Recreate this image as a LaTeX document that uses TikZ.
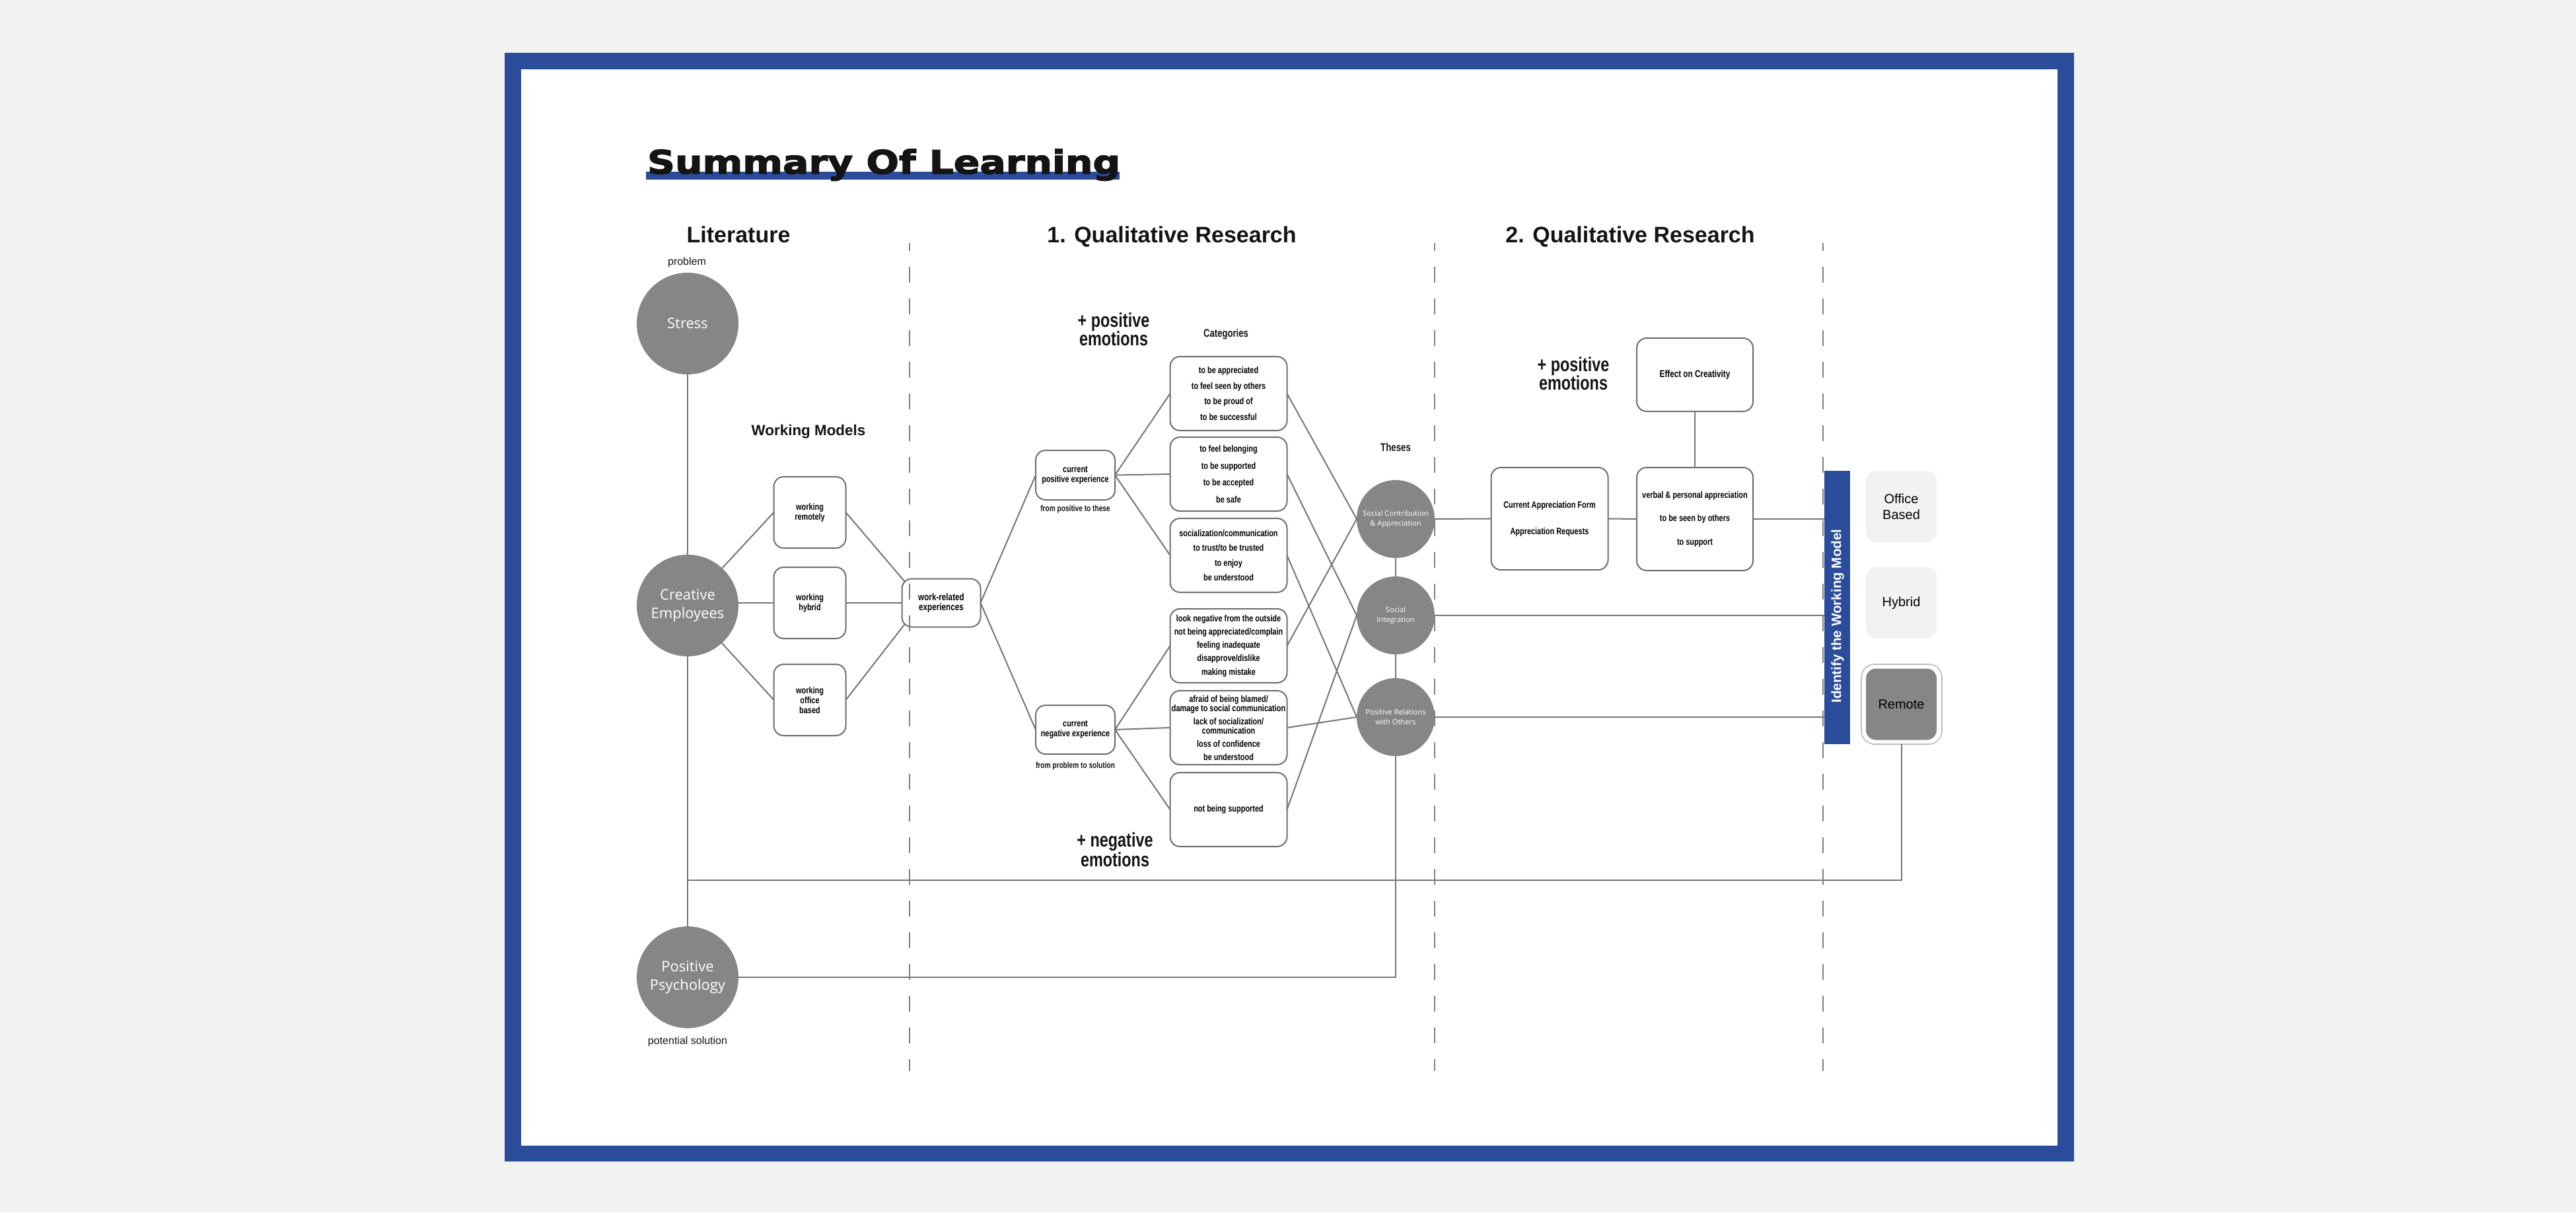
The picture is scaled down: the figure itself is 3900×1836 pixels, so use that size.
\documentclass[tikz,border=0pt]{standalone}
\usepackage{fontspec}
\setmainfont{Liberation Sans}
\newfontfamily\cf[FakeStretch=0.78]{Liberation Sans}
\newfontfamily\osf{Open Sans}
\newfontfamily\titlef[FakeStretch=1.19,FakeBold=3]{DejaVu Sans}
\usetikzlibrary{calc}
\definecolor{frameblue}{HTML}{2B4C9B}
\definecolor{bgc}{HTML}{F2F2F2}
\definecolor{linec}{HTML}{757575}
\definecolor{dashc}{HTML}{808080}
\definecolor{boxc}{HTML}{6E6E6E}
\definecolor{circc}{HTML}{868686}
\definecolor{lightc}{HTML}{F2F2F2}
\definecolor{outlc}{HTML}{BBBBBB}
\definecolor{txtc}{HTML}{141414}
\begin{document}
\begin{tikzpicture}[x=0.5pt,y=-0.5pt,
  every node/.style={inner sep=0pt, outer sep=0pt},
  ln/.style={draw=linec, line width=1pt},
  dsh/.style={draw=dashc, line width=0.9pt, dash pattern=on 12pt off 12pt, dash phase=6pt},
  bx/.style={draw=boxc, line width=1pt, fill=white, rounded corners=7.5pt, align=center, text=black},
  circ/.style={circle, fill=circc, text=white, align=center},
  bigc/.style={circ, minimum size=77pt, font=\osf\fontsize{11}{14}\selectfont},
  thc/.style={circ, minimum size=59pt, font=\osf\fontsize{5.6}{7.5}\selectfont},
  head/.style={anchor=base, text=txtc, font=\bfseries\fontsize{17}{20}\selectfont},
  emo/.style={align=center, text=txtc, font=\cf\bfseries\fontsize{15}{14}\selectfont},
  wm/.style={bx, minimum width=54.5pt, minimum height=54pt, font=\cf\bfseries\fontsize{7}{7.5}\selectfont},
  cat/.style={bx, minimum width=88.5pt, minimum height=56pt},
  small/.style={text=txtc, font=\cf\bfseries\fontsize{6.5}{7.5}\selectfont},
  wmod/.style={fill=lightc, rounded corners=7.5pt, minimum width=53.5pt, minimum height=54pt, align=center, text=black, font=\fontsize{10}{12}\selectfont}
]
\useasboundingbox (0,0) rectangle (3900,1836);
\fill[bgc] (0,0) rectangle (3900,1836);
\fill[frameblue] (764,80) rectangle (3140,1759);
\fill[white] (789,105) rectangle (3115,1735);

% title
\fill[frameblue] (978,260) rectangle (1695,272);
\node[anchor=base west, text=txtc, font=\titlef\bfseries\fontsize{24.5}{28}\selectfont] (title) at (980,263) {Summary Of Learning};

% headings
\node[head] (hlit) at (1118,367) {Literature};
\node[head] (hq1) at (1774,367) {1. Qualitative Research};
\node[head] (hq2) at (2468,367) {2. Qualitative Research};
\node[text=txtc, font=\fontsize{8}{9}\selectfont] (lprob) at (1040,397) {problem};
\node[text=txtc, font=\fontsize{8}{9}\selectfont] (lsol) at (1041,1577) {potential solution};
\node[text=txtc, font=\bfseries\fontsize{11.2}{13}\selectfont] (lwm) at (1224,654) {Working Models};
\node[emo] (pe1) at (1686,499) {+ positive\\emotions};
\node[emo] (ne1) at (1688,1287) {+ negative\\emotions};
\node[emo] (pe2) at (2382,566) {+ positive\\emotions};
\node[text=txtc, font=\cf\bfseries\fontsize{8.4}{10}\selectfont] (lcat) at (1856,506) {Categories};
\node[text=txtc, font=\cf\bfseries\fontsize{8.5}{10}\selectfont] (lthe) at (2113,677) {Theses};

% big circles
\node[bigc] (stress) at (1041,490) {Stress};
\node[bigc] (CE) at (1041,917) {Creative\\Employees};
\node[bigc] (PP) at (1041,1480) {Positive\\Psychology};

% working models
\node[wm] (wr) at (1226,776) {working\\remotely};
\node[wm] (wh) at (1226,913) {working\\hybrid};
\node[wm] (wo) at (1226,1060) {working\\office\\based};
\node[bx, minimum width=59.5pt, minimum height=36.5pt, font=\cf\bfseries\fontsize{7.5}{7.5}\selectfont] (wre) at (1425,913) {work-related\\experiences};

% experiences
\node[bx, minimum width=60pt, minimum height=37.5pt, font=\cf\bfseries\fontsize{7}{7.5}\selectfont] (cpe) at (1628,719.5) {current\\positive experience};
\node[small] (lcpe) at (1628,771) {from positive to these};
\node[bx, minimum width=60pt, minimum height=37pt, font=\cf\bfseries\fontsize{7}{7.5}\selectfont] (cne) at (1628,1105) {current\\negative experience};
\node[small] (lcne) at (1628,1160) {from problem to solution};

% categories
\node[cat, font=\cf\bfseries\fontsize{7}{11.7}\selectfont] (cA) at (1860,596) {to be appreciated\\to feel seen by others\\to be proud of\\to be successful};
\node[cat, font=\cf\bfseries\fontsize{7}{12.8}\selectfont] (cB) at (1860,718) {to feel belonging\\to be supported\\to be accepted\\be safe};
\node[cat, font=\cf\bfseries\fontsize{7}{11.2}\selectfont] (cC) at (1860,841) {socialization/communication\\to trust/to be trusted\\to enjoy\\be understood};
\node[cat, font=\cf\bfseries\fontsize{7}{10.1}\selectfont] (cD) at (1860,978) {look negative from the outside\\not being appreciated/complain\\feeling inadequate\\disapprove/dislike\\making mistake};
\node[cat, font=\cf\bfseries\fontsize{7}{10}\selectfont] (cE) at (1860,1102) {afraid of being blamed/\\[-3pt]damage to social communication\\lack of socialization/\\[-3pt]communication\\loss of confidence\\be understood};
\node[cat, font=\cf\bfseries\fontsize{7}{10}\selectfont] (cF) at (1860,1226) {not being supported};

% theses
\node[thc] (SC) at (2113,786) {Social Contribution\\\& Appreciation};
\node[thc] (SI) at (2113,932) {Social\\Integration};
\node[thc] (PR) at (2113,1086) {Positive Relations\\with Others};

% qualitative 2
\node[bx, minimum width=88.5pt, minimum height=77.5pt, font=\cf\bfseries\fontsize{7}{20}\selectfont] (CA) at (2346,785.5) {Current Appreciation Form\\Appreciation Requests};
\node[bx, minimum width=88pt, minimum height=55.5pt, font=\cf\bfseries\fontsize{7.5}{9}\selectfont] (EC) at (2566,567.5) {Effect on Creativity};
\node[bx, minimum width=88pt, minimum height=78pt, font=\cf\bfseries\fontsize{7}{17.75}\selectfont] (vap) at (2566,786) {verbal \& personal appreciation\\to be seen by others\\to support};

% working model choice
\node[fill=frameblue, minimum width=19.5pt, minimum height=207pt] (bar) at (2781.5,920) {};
\node[rotate=90, text=white, font=\bfseries\fontsize{10.3}{12}\selectfont] (idtext) at (2782,933) {Identify the Working Model};
\node[wmod] (office) at (2878.5,767) {Office\\Based};
\node[wmod] (hybrid) at (2878.5,913) {Hybrid};
\node[draw=outlc, line width=0.8pt, rounded corners=10pt, minimum width=61pt, minimum height=60.5pt] (remoteo) at (2879,1066.5) {};
\node[wmod, fill=circc] (remote) at (2878.5,1066.5) {Remote};

% connectors
\coordinate (jct) at (1041,1333);
\draw[ln] (stress.south) -- (CE.north);
\draw[ln] (CE.south) -- (PP.north);
\draw[ln] (CE) -- (wr.west);
\draw[ln] (CE.east |- wh.west) -- (wh.west);
\draw[ln] (CE) -- (wo.west);
\draw[ln] (wr.east) -- ($(wre.north west)+(4,4)$);
\draw[ln] (wh.east) -- (wre.west);
\draw[ln] (wo.east) -- ($(wre.south west)+(4,-4)$);
\draw[ln] (wre.east) -- (cpe.west);
\draw[ln] (wre.east) -- (cne.west);
\foreach \t in {cA,cB,cC} \draw[ln] (cpe.east) -- (\t.west);
\foreach \t in {cD,cE,cF} \draw[ln] (cne.east) -- (\t.west);
\draw[ln] (cA.east) -- (SC.west);
\draw[ln] (cB.east) -- (SI.west);
\draw[ln] (cC.east) -- (PR.west);
\draw[ln] (cD.east) -- (SC.west);
\draw[ln] (cE.east) -- (PR.west);
\draw[ln] (cF.east) -- (SI.west);
\draw[ln] (SC.south) -- (SI.north);
\draw[ln] (SI.south) -- (PR.north);
\draw[ln] (SC.east) -- (CA.west);
\draw[ln] (CA.east) -- (vap.west);
\draw[ln] (vap.north) -- (EC.south);
\draw[ln] (vap.east) -- (vap.east -| bar.west);
\draw[ln] (SI.east) -- (SI.east -| bar.west);
\draw[ln] (PR.east) -- (PR.east -| bar.west);
\draw[ln] (PP.east) -| (PR.south);
\draw[ln] (remoteo.south) |- (jct);

% dashed separators
\draw[dsh] (1377,368) -- (1377,1622);
\draw[dsh] (2172,368) -- (2172,1622);
\draw[dsh] (2760,368) -- (2760,1622);
\end{tikzpicture}
\end{document}
